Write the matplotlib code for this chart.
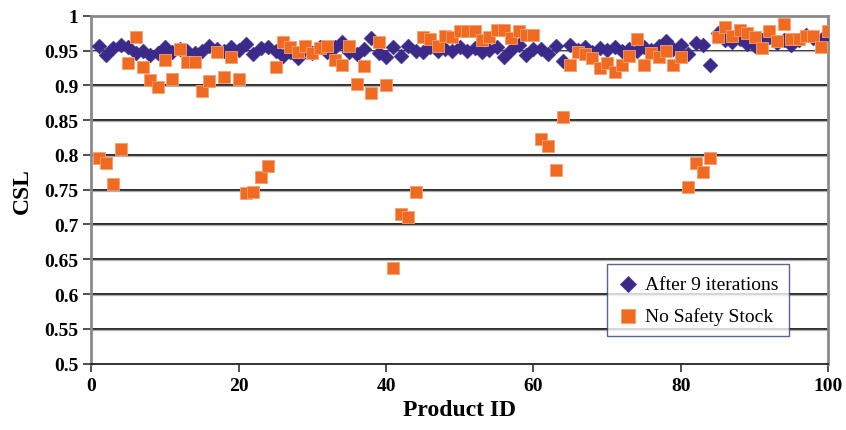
import matplotlib

matplotlib.use("Agg")
import matplotlib.pyplot as plt
import numpy as np

# CSL per product, two runs
product_id = np.arange(1, 101)

csl_after_9_iterations = [
    0.956, 0.943, 0.954, 0.958, 0.955, 0.947, 0.950, 0.943, 0.947, 0.955,
    0.948, 0.953, 0.950, 0.946, 0.949, 0.957, 0.952, 0.950, 0.955, 0.951,
    0.960, 0.945, 0.954, 0.955, 0.949, 0.942, 0.948, 0.940, 0.953, 0.946,
    0.955, 0.948, 0.955, 0.962, 0.948, 0.945, 0.952, 0.968, 0.946, 0.941,
    0.955, 0.942, 0.956, 0.949, 0.948, 0.955, 0.950, 0.953, 0.949, 0.955,
    0.950, 0.954, 0.948, 0.951, 0.955, 0.941, 0.951, 0.958, 0.944, 0.952,
    0.953, 0.945, 0.956, 0.935, 0.958, 0.951, 0.955, 0.948, 0.954, 0.951,
    0.955, 0.950, 0.953, 0.949, 0.955, 0.951, 0.957, 0.964, 0.953, 0.958,
    0.945, 0.961, 0.958, 0.930, 0.975, 0.965, 0.962, 0.966, 0.960, 0.957,
    0.965, 0.969, 0.961, 0.965, 0.958, 0.965, 0.972, 0.968, 0.965, 0.975,
]

csl_no_safety_stock = [
    0.795, 0.789, 0.758, 0.809, 0.932, 0.969, 0.926, 0.908, 0.898, 0.936,
    0.909, 0.953, 0.933, 0.933, 0.892, 0.907, 0.948, 0.912, 0.941, 0.909,
    0.746, 0.747, 0.768, 0.784, 0.926, 0.962, 0.955, 0.948, 0.957, 0.947,
    0.954, 0.957, 0.936, 0.929, 0.957, 0.902, 0.928, 0.889, 0.962, 0.900,
    0.637, 0.715, 0.711, 0.747, 0.969, 0.966, 0.957, 0.971, 0.969, 0.978,
    0.978, 0.978, 0.965, 0.970, 0.980, 0.980, 0.968, 0.978, 0.972, 0.972,
    0.823, 0.813, 0.778, 0.855, 0.929, 0.948, 0.945, 0.939, 0.925, 0.932,
    0.919, 0.930, 0.942, 0.966, 0.930, 0.946, 0.941, 0.950, 0.930, 0.941,
    0.754, 0.788, 0.775, 0.795, 0.969, 0.984, 0.971, 0.979, 0.975, 0.969,
    0.954, 0.978, 0.964, 0.988, 0.966, 0.966, 0.971, 0.971, 0.955, 0.978,
]

x_ticks = [0, 20, 40, 60, 80, 100]
y_ticks = np.round(np.arange(0.5, 1.0001, 0.05), 2)
y_tick_labels = ["0.5", "0.55", "0.6", "0.65", "0.7", "0.75",
                 "0.8", "0.85", "0.9", "0.95", "1"]

plt.rcParams["font.family"] = ["Liberation Serif", "DejaVu Serif"]

fig = plt.figure(figsize=(8.46, 4.31), dpi=100)
ax = fig.add_axes([0.108, 0.154, 0.871, 0.807])

for y in y_ticks[1:-1]:
    ax.axhline(y, color="#1a1a1a", lw=1.3, zorder=1)
    ax.axhline(y - 0.0012, color="#b0b0b0", lw=0.9, zorder=1)

ax.scatter(product_id, csl_after_9_iterations, marker="D", s=58,
           color="#3b2a8a", edgecolor="#3b2a8a", linewidth=0.3,
           label="After 9 iterations", zorder=3)
ax.scatter(product_id, csl_no_safety_stock, marker="s", s=80,
           color="#f06a22", edgecolor="#f5a070", linewidth=0.6,
           label="No Safety Stock", zorder=4)

ax.set_xlim(0, 100)
ax.set_ylim(0.5, 1.0)
ax.set_xticks(x_ticks)
ax.set_xticklabels([str(t) for t in x_ticks], fontweight="bold", fontsize=14)
ax.set_yticks(y_ticks)
ax.set_yticklabels(y_tick_labels, fontweight="bold", fontsize=14)
ax.tick_params(axis="both", direction="out", length=6,
               width=1.2, color="#333333")

for side in ("top", "right", "left"):
    ax.spines[side].set_color("#8a8a8a")
    ax.spines[side].set_linewidth(2)
ax.spines["bottom"].set_color("#222222")
ax.spines["bottom"].set_linewidth(1.3)

ax.set_xlabel("Product ID", fontsize=17, fontweight="bold", labelpad=4)
ax.set_ylabel("CSL", fontsize=17, fontweight="bold", labelpad=8)

leg = ax.legend(loc="lower left", bbox_to_anchor=(0.70, 0.08),
                fontsize=14, frameon=True, fancybox=False,
                handletextpad=0.4, borderpad=0.55, labelspacing=0.75,
                handlelength=1.0, borderaxespad=0, markerscale=1.1)
leg.get_frame().set_edgecolor("#2a3f7a")
leg.get_frame().set_linewidth(1.0)

fig.savefig("out.png", dpi=100)
